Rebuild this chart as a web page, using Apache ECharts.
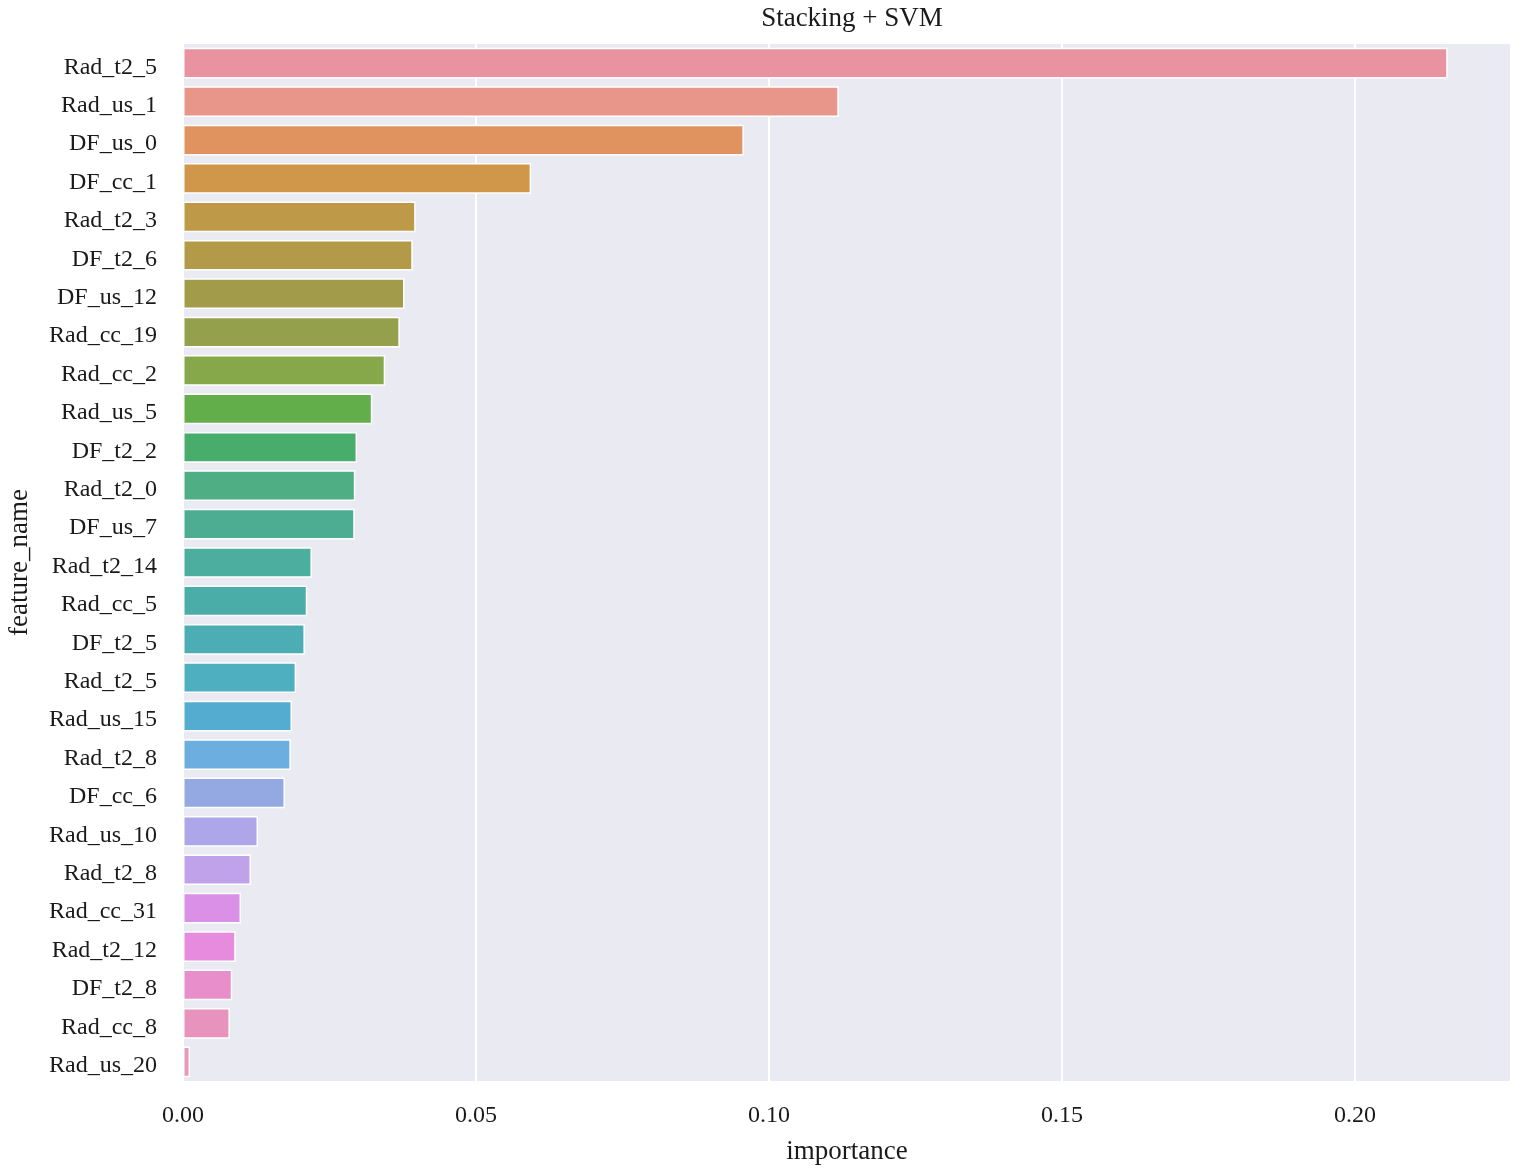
<!DOCTYPE html>
<html>
<head>
<meta charset="utf-8">
<title>Stacking + SVM</title>
<script src="https://cdn.jsdelivr.net/npm/echarts@6/dist/echarts.min.js"></script>
<style>
  html, body { margin: 0; padding: 0; background: #fff; }
  #chart { width: 1524px; height: 1171px; }
</style>
</head>
<body>
<div id="chart"></div>
<script>
// feature names, top to bottom (some names repeat in the source figure)
const featureNames = [
  "Rad_t2_5", "Rad_us_1", "DF_us_0", "DF_cc_1", "Rad_t2_3", "DF_t2_6",
  "DF_us_12", "Rad_cc_19", "Rad_cc_2", "Rad_us_5", "DF_t2_2", "Rad_t2_0",
  "DF_us_7", "Rad_t2_14", "Rad_cc_5", "DF_t2_5", "Rad_t2_5", "Rad_us_15",
  "Rad_t2_8", "DF_cc_6", "Rad_us_10", "Rad_t2_8", "Rad_cc_31", "Rad_t2_12",
  "DF_t2_8", "Rad_cc_8", "Rad_us_20"
];

const importance = [
  0.2158, 0.1119, 0.0957, 0.0594, 0.0397, 0.0392,
  0.0378, 0.0370, 0.0345, 0.0323, 0.0297, 0.0294,
  0.0293, 0.0220, 0.0212, 0.0208, 0.0193, 0.0186,
  0.0184, 0.0174, 0.0128, 0.0116, 0.0099, 0.0090,
  0.0084, 0.0080, 0.0012
];

const xTicks = [0, 0.05, 0.10, 0.15, 0.20];

// husl-like palette picked off the figure
const barColors = [
  "#E8939F", "#E8968A", "#E0935F", "#D0974A", "#BE9A48", "#B29A48",
  "#A29C4A", "#95A04C", "#86A84A", "#62AE4A", "#48AD6A", "#50AE85",
  "#4DAD93", "#4BAE9E", "#4AADA8", "#4CADB5", "#4EAFC0", "#55ACD1",
  "#6CAEE0", "#94A8E2", "#ADA6E8", "#C0A2EA", "#D990E6", "#E78BDF",
  "#E88FCB", "#E793BE", "#E89AB6"
];

const serif = "'Liberation Serif', 'Times New Roman', serif";

const chart = echarts.init(document.getElementById("chart"), null, { renderer: "canvas" });

const option = {
  backgroundColor: "#ffffff",
  animation: false,
  title: {
    text: "Stacking + SVM",
    left: 847,
    top: 0,
    textAlign: "center",
    textStyle: { fontFamily: serif, fontSize: 27, fontWeight: "normal", color: "#1a1a1a" }
  },
  grid: {
    left: 183,
    right: 13,
    top: 44,
    bottom: 90,
    outerBoundsMode: "none",
    containLabel: false,
    show: true,
    backgroundColor: "#EAEAF2",
    borderWidth: 0
  },
  xAxis: {
    type: "value",
    min: 0,
    max: 0.2266,
    interval: 0.05,
    name: "importance",
    nameLocation: "middle",
    nameGap: 57,
    nameTextStyle: { fontFamily: serif, fontSize: 27, color: "#1a1a1a" },
    axisLine: { show: false },
    axisTick: { show: false },
    axisLabel: {
      margin: 23,
      fontFamily: serif,
      fontSize: 24,
      color: "#1a1a1a",
      formatter: (v) => {
        const hit = xTicks.find((t) => Math.abs(t - v) < 1e-9);
        return hit === undefined ? "" : hit.toFixed(2);
      }
    },
    splitLine: { show: true, lineStyle: { color: "#ffffff", width: 2 } }
  },
  yAxis: {
    type: "category",
    inverse: true,
    data: featureNames.map((_, i) => String(i)),
    name: "feature_name",
    nameLocation: "middle",
    nameGap: 150,
    nameTextStyle: { fontFamily: serif, fontSize: 27, color: "#1a1a1a" },
    axisLine: { show: false },
    axisTick: { show: false },
    splitLine: { show: false },
    axisLabel: {
      margin: 26,
      fontFamily: serif,
      fontSize: 24,
      color: "#1a1a1a",
      formatter: (v) => "{n|" + featureNames[Number(v)] + "}",
      rich: {
        n: {
          fontFamily: serif,
          fontSize: 24,
          color: "#1a1a1a",
          padding: [8, 0, 0, 0]
        }
      }
    }
  },
  series: [
    {
      type: "bar",
      barWidth: "80%",
      data: importance.map((v, i) => ({
        value: v,
        itemStyle: { color: barColors[i] }
      })),
      itemStyle: { borderColor: "#ffffff", borderWidth: 1.5 }
    }
  ]
};

chart.setOption(option);
</script>
</body>
</html>
